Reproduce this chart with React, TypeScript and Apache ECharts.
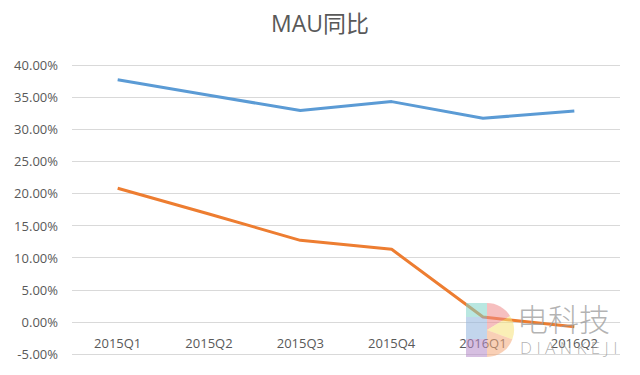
import React, { useEffect, useRef } from "react";
import * as echarts from "echarts";

const categories = ["2015Q1", "2015Q2", "2015Q3", "2015Q4", "2016Q1", "2016Q2"];
const seriesBlue = [37.7, 35.3, 32.9, 34.3, 31.7, 32.85];
const seriesOrange = [20.8, 16.8, 12.7, 11.3, 0.75, -0.75];
const yTicks = { min: -5, max: 40, interval: 5 };

const FONT = "'Open Sans', 'Noto Sans CJK SC', sans-serif";

export default function App() {
  const ref = useRef<HTMLDivElement>(null);
  useEffect(() => {
    if (!ref.current) return;
    const chart = echarts.init(ref.current, null, { renderer: "svg" });
    const cx = 487;
    const cy = 330;
    const r = 27;
    const logoSectors = [
      { s: -Math.PI / 2, e: -0.55, c: "#ef8a8a" },
      { s: -0.55, e: 0.35, c: "#f6e27a" },
      { s: 0.35, e: Math.PI / 2, c: "#f4a97a" },
    ];
    chart.setOption({
      animation: false,
      title: {
        text: "MAU同比",
        left: "center",
        top: 6,
        textStyle: { fontFamily: FONT, fontSize: 23, fontWeight: "normal", color: "#595959" },
      },
      grid: { left: 72, right: 20, top: 65, bottom: 21, containLabel: false },
      xAxis: {
        type: "category",
        data: categories,
        boundaryGap: true,
        offset: -32,
        axisLine: { show: false, onZero: false },
        axisTick: { show: false },
        axisLabel: { color: "#595959", fontFamily: FONT, fontSize: 13, margin: 14 },
      },
      yAxis: {
        type: "value",
        min: yTicks.min,
        max: yTicks.max,
        interval: yTicks.interval,
        axisLine: { show: false },
        axisTick: { show: false },
        splitLine: { lineStyle: { color: "#d9d9d9", width: 1 } },
        axisLabel: {
          color: "#595959",
          fontFamily: FONT,
          fontSize: 13,
          margin: 14,
          formatter: (v: number) => v.toFixed(2) + "%",
        },
      },
      series: [
        {
          type: "line",
          data: seriesBlue,
          symbol: "none",
          lineStyle: { color: "#5b9bd5", width: 3 },
          itemStyle: { color: "#5b9bd5" },
        },
        {
          type: "line",
          data: seriesOrange,
          symbol: "none",
          lineStyle: { color: "#ed7d31", width: 3 },
          itemStyle: { color: "#ed7d31" },
          z: 3,
        },
      ],
      graphic: [
        {
          type: "rect",
          z: 100,
          shape: { x: 466, y: 303, width: 21, height: 14 },
          style: { fill: "#7fd3c8", opacity: 0.55 },
        },
        {
          type: "rect",
          z: 100,
          shape: { x: 466, y: 317, width: 21, height: 22 },
          style: { fill: "#8fb3dd", opacity: 0.55 },
        },
        {
          type: "rect",
          z: 100,
          shape: { x: 466, y: 339, width: 21, height: 18 },
          style: { fill: "#b58ac9", opacity: 0.55 },
        },
        ...logoSectors.map((p) => ({
          type: "sector",
          z: 100,
          shape: { cx, cy, r0: 0, r, startAngle: p.s, endAngle: p.e },
          style: { fill: p.c, opacity: 0.55 },
        })),
        {
          type: "text",
          z: 100,
          left: 517,
          top: 302,
          style: { text: "电科技", fontFamily: "'Noto Sans CJK SC', sans-serif", fontSize: 31, fontWeight: 300, fill: "#9a9a9a", opacity: 0.75 },
        },
        {
          type: "text",
          z: 100,
          left: 520,
          top: 339,
          style: { text: "D I A N K E J I", fontFamily: FONT, fontSize: 17, fontWeight: 300, fill: "#9a9a9a", opacity: 0.75 },
        },
      ],
    });
    return () => chart.dispose();
  }, []);
  return (
    <div
      ref={ref}
      style={{ position: "fixed", left: 0, top: 0, width: 640, height: 375, background: "#fff" }}
    />
  );
}
